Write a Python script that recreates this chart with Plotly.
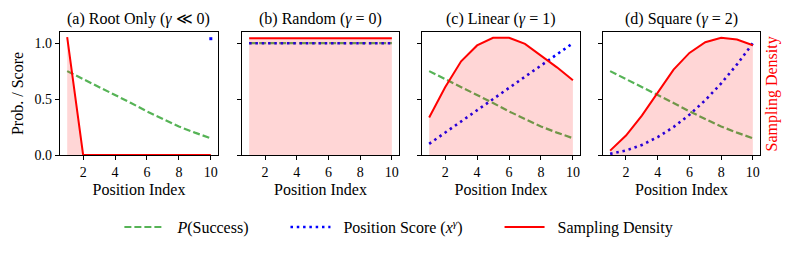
import plotly.graph_objects as go
from plotly.subplots import make_subplots

x = [1, 2, 3, 4, 5, 6, 7, 8, 9, 10]

titles = ["(a) Root Only (<i>γ</i> ≪ 0)", "(b) Random (<i>γ</i> = 0)",
          "(c) Linear (<i>γ</i> = 1)", "(d) Square (<i>γ</i> = 2)"]

legend_names = ["<i>P</i>(Success)", "Position Score (<i>x</i><sup><i>γ</i></sup>)", "Sampling Density"]

p_success_a = [0.75, 0.68, 0.61, 0.54, 0.465, 0.39, 0.32, 0.255, 0.20, 0.15]
p_success_b = [1.0, 1.0, 1.0, 1.0, 1.0, 1.0, 1.0, 1.0, 1.0, 1.0]
p_success_c = [0.75, 0.68, 0.61, 0.54, 0.465, 0.39, 0.32, 0.255, 0.20, 0.15]
p_success_d = [0.75, 0.68, 0.61, 0.54, 0.465, 0.39, 0.32, 0.255, 0.20, 0.15]

score_a = [None, None, None, None, None, None, None, None, None, 1.04]
score_b = [1.0, 1.0, 1.0, 1.0, 1.0, 1.0, 1.0, 1.0, 1.0, 1.0]
score_c = [0.1, 0.2, 0.3, 0.4, 0.5, 0.6, 0.7, 0.8, 0.9, 1.0]
score_d = [0.01, 0.04, 0.09, 0.16, 0.25, 0.36, 0.49, 0.64, 0.81, 1.0]

density_a = [1.054, 0, 0, 0, 0, 0, 0, 0, 0, 0]
density_b = [1.045, 1.045, 1.045, 1.045, 1.045, 1.045, 1.045, 1.045, 1.045, 1.045]
density_c = [0.335, 0.605, 0.838, 0.98, 1.048, 1.048, 0.994, 0.892, 0.784, 0.668]
density_d = [0.039, 0.174, 0.353, 0.56, 0.763, 0.913, 1.009, 1.048, 1.033, 0.982]

x_ticks = [2, 4, 6, 8, 10]
y_ticks = [0.0, 0.5, 1.0]
y_tick_text = ["0.0", "0.5", "1.0"]

FONT = "Liberation Serif"
GREEN = "rgba(44,160,44,0.8)"
BLUE = "rgb(0,0,255)"
RED = "rgb(255,0,0)"
NB = "\u00a0"

fig = make_subplots(rows=1, cols=4)

panels = [
    (p_success_a, score_a, density_a),
    (p_success_b, score_b, density_b),
    (p_success_c, score_c, density_c),
    (p_success_d, score_d, density_d),
]

lead = NB * 2
trail = NB * 8

for i, (ps, sc, de) in enumerate(panels):
    col = i + 1
    show = (i == 2)
    fig.add_trace(go.Scatter(x=x, y=ps, mode="lines", name=lead + legend_names[0] + trail,
                             line=dict(color=GREEN, width=2.2, dash="7px,3px"),
                             showlegend=show, legendrank=1), row=1, col=col)
    if i == 0:
        fig.add_trace(go.Scatter(x=x, y=sc, mode="markers", name=legend_names[1],
                                 marker=dict(color=BLUE, size=3, symbol="square"),
                                 showlegend=False), row=1, col=col)
    else:
        fig.add_trace(go.Scatter(x=x, y=sc, mode="lines", name=lead + legend_names[1] + trail,
                                 line=dict(color=BLUE, width=2.6, dash="2.5px,3.8px"),
                                 showlegend=show, legendrank=2), row=1, col=col)
    # shaded area under the sampling density (drawn above the other lines, as in the reference)
    fig.add_trace(go.Scatter(x=x, y=de, mode="lines", name="density area",
                             line=dict(color="rgba(255,0,0,0)", width=0),
                             fill="tozeroy", fillcolor="rgba(255,0,0,0.16)",
                             showlegend=False, hoverinfo="skip"), row=1, col=col)
    fig.add_trace(go.Scatter(x=x, y=de, mode="lines", name=lead + legend_names[2],
                             line=dict(color=RED, width=2),
                             showlegend=show, legendrank=3), row=1, col=col)

domains = [(0.0, 0.2257), (0.26, 0.4843), (0.5171, 0.743), (0.7757, 1.0)]

for i in range(4):
    xa = "xaxis" if i == 0 else f"xaxis{i+1}"
    ya = "yaxis" if i == 0 else f"yaxis{i+1}"
    fig.layout[xa].update(
        domain=list(domains[i]), range=[0.55, 10.45], tickvals=x_ticks,
        ticks="outside", ticklen=4, tickwidth=1, tickcolor="black",
        showline=True, mirror=True, linecolor="black", linewidth=1.2,
        showgrid=False, zeroline=False, automargin=False,
        tickfont=dict(family=FONT, size=14, color="black"),
        title=dict(text="Position Index", font=dict(family=FONT, size=16, color="black"), standoff=4),
    )
    fig.layout[ya].update(
        range=[0, 1.1], tickvals=y_ticks, ticktext=y_tick_text,
        ticks="outside", ticklen=4, tickwidth=1, tickcolor="black",
        showline=True, mirror=True, linecolor="black", linewidth=1.2,
        showgrid=False, zeroline=False, showticklabels=(i == 0), automargin=False,
        tickfont=dict(family=FONT, size=14, color="black"),
    )

fig.layout.yaxis.title = dict(text="Prob. / Score", font=dict(family=FONT, size=16, color="black"), standoff=6)

annotations = []
for i, t in enumerate(titles):
    cx = (domains[i][0] + domains[i][1]) / 2
    annotations.append(dict(text=t, x=cx, y=1.0, xref="paper", yref="paper",
                            xanchor="center", yanchor="bottom", yshift=2, showarrow=False,
                            font=dict(family=FONT, size=16, color="black")))
annotations.append(dict(text="Sampling Density", x=1.017, y=0.5, xref="paper", yref="paper",
                        xanchor="center", yanchor="middle", textangle=-90, showarrow=False,
                        font=dict(family=FONT, size=16, color="red")))

fig.update_layout(
    width=793, height=254,
    margin=dict(l=60, r=33, t=32, b=99),
    paper_bgcolor="white", plot_bgcolor="white",
    font=dict(family=FONT, size=14, color="black"),
    annotations=annotations,
    legend=dict(orientation="h", x=0.503, xref="container", xanchor="center",
                y=0.106, yref="container", yanchor="middle",
                font=dict(family=FONT, size=16, color="black"), itemwidth=40,
                bgcolor="rgba(0,0,0,0)"),
)

fig.write_html("out.html", config={"displayModeBar": False},
               post_script="document.body.style.margin='0';document.body.style.overflow='hidden';")
